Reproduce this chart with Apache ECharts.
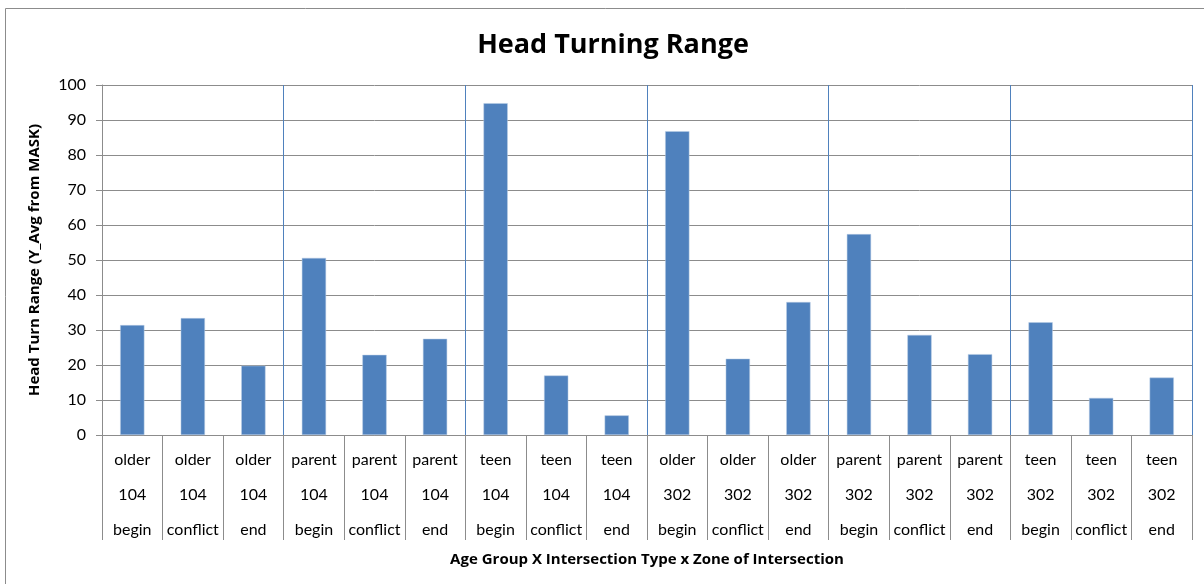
<!DOCTYPE html>
<html><head><meta charset="utf-8">
<script src="https://cdn.jsdelivr.net/npm/echarts@6/dist/echarts.min.js"></script>
<style>html,body{margin:0;padding:0;background:#fff}#c{width:1204px;height:584px}</style>
</head><body><div id="c"></div>
<script>
const ageGroups = ['older','older','older','parent','parent','parent','teen','teen','teen','older','older','older','parent','parent','parent','teen','teen','teen'];
const intersections = ['104','104','104','104','104','104','104','104','104','302','302','302','302','302','302','302','302','302'];
const zones = ['begin','conflict','end','begin','conflict','end','begin','conflict','end','begin','conflict','end','begin','conflict','end','begin','conflict','end'];
const values = [31.4, 33.4, 19.8, 50.6, 22.9, 27.5, 94.8, 17.0, 5.6, 86.8, 21.8, 38.0, 57.4, 28.6, 23.1, 32.2, 10.6, 16.4];
const groups = ['older 104','parent 104','teen 104','older 302','parent 302','teen 302'];
const yTicks = [0,10,20,30,40,50,60,70,80,90,100];

const categories = ageGroups.map((a,i)=>a+'\n'+intersections[i]+'\n'+zones[i]);
const groupSize = categories.length / groups.length;
const font = 'Lato, "Open Sans", sans-serif';
const bold = '"Open Sans", sans-serif';
const chart = echarts.init(document.getElementById('c'));
chart.setOption({
  animation:false,
  title:{text:'Head Turning Range',left:608,textAlign:'center',top:27,
    textStyle:{fontFamily:bold,fontWeight:'bold',fontSize:27,color:'#000'}},
  graphic:[{type:'rect',shape:{x:5.5,y:8.5,width:1230,height:600},style:{fill:'none',stroke:'#8c8c8c',lineWidth:1},silent:true}],
  grid:{left:102,right:12,top:85,bottom:149},
  xAxis:[{
    type:'value',min:0,max:categories.length,interval:groupSize,position:'bottom',
    axisLine:{show:false},axisTick:{show:false},axisLabel:{show:false},
    splitLine:{show:true,lineStyle:{color:'#4f81bd',width:1}}
  },{
    type:'category',data:categories,position:'bottom',
    name:'Age Group X Intersection Type x Zone of Intersection',nameLocation:'middle',nameGap:112,
    nameTextStyle:{fontFamily:bold,fontWeight:'bold',fontSize:15,color:'#000'},
    axisLine:{show:true,lineStyle:{color:'#8c8c8c',width:1}},
    axisTick:{show:true,inside:false,interval:0,length:105,lineStyle:{color:'#8c8c8c',width:1}},
    axisLabel:{show:true,interval:0,margin:7,lineHeight:35,fontSize:16,fontFamily:font,color:'#000'},
    splitLine:{show:false}
  }],
  yAxis:{
    type:'value',min:0,max:100,interval:10,
    name:'Head Turn Range (Y_Avg from MASK)',nameLocation:'middle',nameGap:60,
    nameTextStyle:{fontFamily:bold,fontWeight:'bold',fontSize:15,color:'#000'},
    axisLine:{show:true,lineStyle:{color:'#8c8c8c'}},
    axisTick:{show:true,inside:false,length:6,lineStyle:{color:'#8c8c8c'}},
    axisLabel:{fontSize:16,fontFamily:font,color:'#000',margin:16,
      formatter:v=>yTicks.includes(v)?String(v):''},
    splitLine:{show:true,lineStyle:{color:'#8c8c8c',width:1}}
  },
  series:[{type:'bar',data:values,barWidth:'40%',xAxisIndex:1,
    itemStyle:{color:'#4f81bd',borderColor:'#b9cde5',borderWidth:0.5}}]
});
</script></body></html>
